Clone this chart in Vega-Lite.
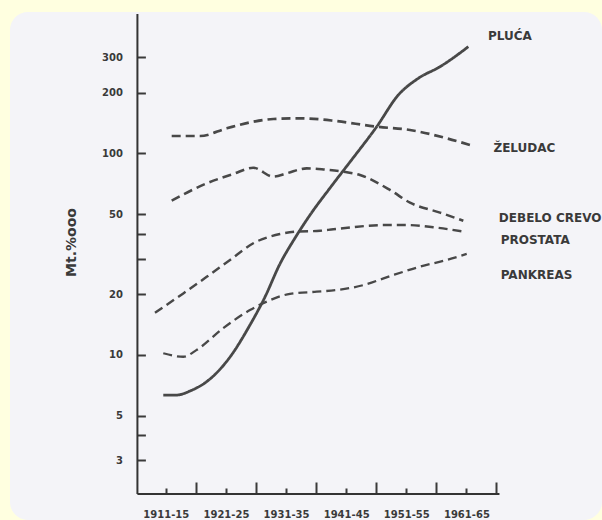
{
  "$schema": "https://vega.github.io/schema/vega-lite/v6.json",
  "width": 592,
  "height": 508,
  "padding": {"left": 10, "top": 12, "right": 0, "bottom": 0},
  "autosize": {"type": "none"},
  "background": "#FFFFE0",
  "config": {
    "view": {"fill": "#F4F4F8", "stroke": null, "cornerRadius": 18},
    "axis": {
      "labelFont": "DejaVu Sans", "labelFontWeight": "bold", "labelFontSize": 10, "labelColor": "#3a3a3a",
      "tickColor": "#3a3a3a", "tickWidth": 2, "grid": false, "domain": false,
      "titleFont": "DejaVu Sans", "titleFontWeight": "bold", "titleColor": "#3a3a3a",
      "labelOverlap": false, "labelFlush": false
    }
  },
  "datasets": {
    "series": [
      {"name": "PLUĆA", "year": 1912.58, "value": 6.33},
      {"name": "PLUĆA", "year": 1914.81, "value": 6.33},
      {"name": "PLUĆA", "year": 1917.03, "value": 6.63},
      {"name": "PLUĆA", "year": 1920.35, "value": 7.6},
      {"name": "PLUĆA", "year": 1923.68, "value": 9.77},
      {"name": "PLUĆA", "year": 1927.0, "value": 14.08},
      {"name": "PLUĆA", "year": 1929.5, "value": 19.4},
      {"name": "PLUĆA", "year": 1931.99, "value": 28.3},
      {"name": "PLUĆA", "year": 1934.49, "value": 38.0},
      {"name": "PLUĆA", "year": 1936.98, "value": 49.4},
      {"name": "PLUĆA", "year": 1940.31, "value": 67.3},
      {"name": "PLUĆA", "year": 1943.64, "value": 90.6},
      {"name": "PLUĆA", "year": 1948.08, "value": 135.5},
      {"name": "PLUĆA", "year": 1951.67, "value": 194.5},
      {"name": "PLUĆA", "year": 1955.0, "value": 235.4},
      {"name": "PLUĆA", "year": 1958.61, "value": 268.8},
      {"name": "PLUĆA", "year": 1963.32, "value": 337.7},
      {"name": "ŽELUDAC", "year": 1913.98, "value": 121.8},
      {"name": "ŽELUDAC", "year": 1918.69, "value": 121.8},
      {"name": "ŽELUDAC", "year": 1923.13, "value": 133},
      {"name": "ŽELUDAC", "year": 1927.55, "value": 143.5},
      {"name": "ŽELUDAC", "year": 1930.88, "value": 148},
      {"name": "ŽELUDAC", "year": 1934.77, "value": 149.1},
      {"name": "ŽELUDAC", "year": 1938.65, "value": 147.4},
      {"name": "ŽELUDAC", "year": 1940.86, "value": 145.1},
      {"name": "ŽELUDAC", "year": 1948.08, "value": 135.5},
      {"name": "ŽELUDAC", "year": 1953.62, "value": 130.5},
      {"name": "ŽELUDAC", "year": 1959.72, "value": 118.7},
      {"name": "ŽELUDAC", "year": 1964.15, "value": 108.7},
      {"name": "DEBELO CREVO", "year": 1913.98, "value": 58.2},
      {"name": "DEBELO CREVO", "year": 1919.8, "value": 71.0},
      {"name": "DEBELO CREVO", "year": 1924.23, "value": 79.0},
      {"name": "DEBELO CREVO", "year": 1927.55, "value": 84.8},
      {"name": "DEBELO CREVO", "year": 1930.88, "value": 76.6},
      {"name": "DEBELO CREVO", "year": 1933.11, "value": 79.6},
      {"name": "DEBELO CREVO", "year": 1936.44, "value": 84.2},
      {"name": "DEBELO CREVO", "year": 1939.5, "value": 83.0},
      {"name": "DEBELO CREVO", "year": 1942.52, "value": 81.1},
      {"name": "DEBELO CREVO", "year": 1945.3, "value": 78.1},
      {"name": "DEBELO CREVO", "year": 1950.29, "value": 65.8},
      {"name": "DEBELO CREVO", "year": 1953.62, "value": 56.9},
      {"name": "DEBELO CREVO", "year": 1958.61, "value": 50.8},
      {"name": "DEBELO CREVO", "year": 1962.49, "value": 46.3},
      {"name": "PROSTATA", "year": 1911.2, "value": 16.2},
      {"name": "PROSTATA", "year": 1915.91, "value": 20.2},
      {"name": "PROSTATA", "year": 1919.8, "value": 24.4},
      {"name": "PROSTATA", "year": 1923.68, "value": 29.6},
      {"name": "PROSTATA", "year": 1927.55, "value": 35.8},
      {"name": "PROSTATA", "year": 1931.99, "value": 39.8},
      {"name": "PROSTATA", "year": 1934.77, "value": 40.9},
      {"name": "PROSTATA", "year": 1938.65, "value": 41.3},
      {"name": "PROSTATA", "year": 1940.86, "value": 42.0},
      {"name": "PROSTATA", "year": 1949.74, "value": 44.1},
      {"name": "PROSTATA", "year": 1953.07, "value": 44.1},
      {"name": "PROSTATA", "year": 1957.49, "value": 43.0},
      {"name": "PROSTATA", "year": 1962.49, "value": 40.9},
      {"name": "PANKREAS", "year": 1912.58, "value": 10.2},
      {"name": "PANKREAS", "year": 1915.91, "value": 9.8},
      {"name": "PANKREAS", "year": 1918.14, "value": 10.6},
      {"name": "PANKREAS", "year": 1922.56, "value": 13.6},
      {"name": "PANKREAS", "year": 1927.0, "value": 16.7},
      {"name": "PANKREAS", "year": 1929.78, "value": 18.4},
      {"name": "PANKREAS", "year": 1933.66, "value": 20.1},
      {"name": "PANKREAS", "year": 1938.1, "value": 20.6},
      {"name": "PANKREAS", "year": 1941.43, "value": 21.0},
      {"name": "PANKREAS", "year": 1945.85, "value": 22.2},
      {"name": "PANKREAS", "year": 1950.29, "value": 24.6},
      {"name": "PANKREAS", "year": 1955.28, "value": 27.4},
      {"name": "PANKREAS", "year": 1959.72, "value": 29.6},
      {"name": "PANKREAS", "year": 1963.05, "value": 31.7}
    ],
    "labels": [
      {"name": "PLUĆA", "year": 1966.6, "value": 383},
      {"name": "ŽELUDAC", "year": 1967.5, "value": 106},
      {"name": "DEBELO CREVO", "year": 1968.4, "value": 47.6},
      {"name": "PROSTATA", "year": 1968.7, "value": 37.2},
      {"name": "PANKREAS", "year": 1968.7, "value": 24.9}
    ],
    "one": [{"frame": "axes"}]
  },
  "layer": [
    {
      "data": {"name": "series"},
      "mark": {"type": "line", "interpolate": "monotone", "color": "#484848", "strokeCap": "butt"},
      "encoding": {
        "x": {
          "field": "year", "type": "quantitative",
          "scale": {"domain": [1887.085, 1985.555], "nice": false, "zero": false},
          "axis": {
            "values": [1913, 1923, 1933, 1943, 1953, 1963],
            "labelExpr": "(datum.value - 2) + '-' + ((datum.value + 2) % 100)",
            "tickSize": -6, "labelPadding": 21, "offset": -26, "orient": "bottom", "title": null
          }
        },
        "y": {
          "field": "value", "type": "quantitative",
          "scale": {"type": "log", "domain": [1.52, 501.9], "nice": false, "zero": false},
          "axis": {
            "orient": "left",
            "values": [3, 4, 5, 10, 20, 30, 40, 50, 100, 200, 300],
            "format": "d",
            "labelExpr": "indexof([4, 30, 40], datum.value) >= 0 ? '' : datum.label",
            "tickSize": -8, "labelPadding": 23, "offset": -127.4,
            "title": "Mt.%ooo", "titleFontSize": 14, "titleAngle": -90,
            "titleX": -66, "titleY": 230, "titleAlign": "center", "titleBaseline": "middle"
          }
        },
        "strokeDash": {
          "field": "name", "type": "nominal",
          "scale": {"domain": ["PLUĆA", "ŽELUDAC", "DEBELO CREVO", "PROSTATA", "PANKREAS"], "range": [[1, 0], [9, 5], [9, 5], [9, 5], [9, 5]]},
          "legend": null
        },
        "strokeWidth": {
          "field": "name", "type": "nominal",
          "scale": {"domain": ["PLUĆA", "ŽELUDAC", "DEBELO CREVO", "PROSTATA", "PANKREAS"], "range": [2.8, 2.3, 2.3, 2.3, 2.3]},
          "legend": null
        }
      }
    },
    {
      "data": {"name": "one"},
      "mark": {"type": "rule", "color": "#333333", "strokeWidth": 2},
      "encoding": {
        "x": {"datum": 1908.28, "type": "quantitative", "axis": null},
        "y": {"datum": 2.046, "type": "quantitative"},
        "y2": {"datum": 490.5}
      }
    },
    {
      "data": {"name": "one"},
      "mark": {"type": "rule", "color": "#333333", "strokeWidth": 2},
      "encoding": {
        "x": {
          "datum": 1908.28, "type": "quantitative",
          "axis": {"values": [1918, 1928, 1938, 1948, 1958, 1968], "labels": false, "tickSize": -12, "offset": -26, "orient": "bottom", "title": null}
        },
        "x2": {"datum": 1968.5},
        "y": {"datum": 2.046, "type": "quantitative"}
      }
    },
    {
      "data": {"name": "labels"},
      "mark": {"type": "text", "align": "left", "baseline": "middle", "font": "DejaVu Sans", "fontWeight": "bold", "fontSize": 12, "color": "#3a3a3a"},
      "encoding": {
        "x": {"field": "year", "type": "quantitative", "axis": null},
        "y": {"field": "value", "type": "quantitative"},
        "text": {"field": "name"}
      }
    }
  ],
  "resolve": {"axis": {"x": "independent"}}
}
